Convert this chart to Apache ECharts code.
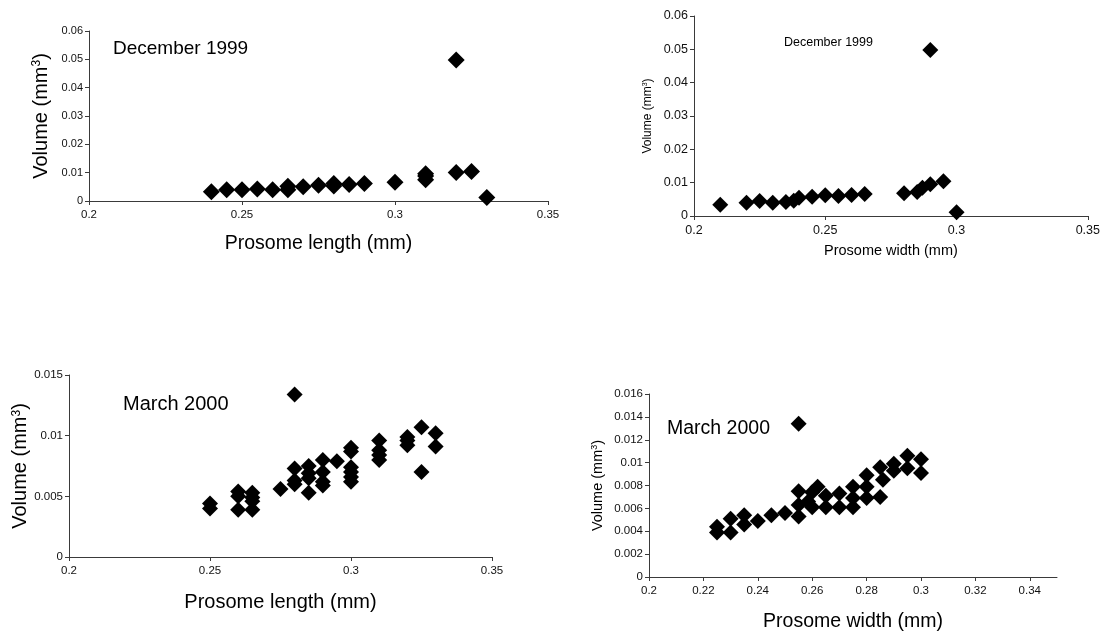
<!DOCTYPE html>
<html>
<head>
<meta charset="utf-8">
<script src="https://cdn.jsdelivr.net/npm/echarts@6/dist/echarts.min.js"></script>
<style>
html,body{margin:0;padding:0;background:#fff;}
#c{width:1103px;height:633px;}
</style>
</head>
<body>
<div id="c"></div>
<script>
// ---- Data ----
// December 1999, prosome length (mm) vs volume (mm3)
var decLenX = [0.24,0.245,0.25,0.255,0.26,0.265,0.265,0.27,0.275,0.28,0.28,0.285,0.29,0.30,0.31,0.31,0.31,0.32,0.32,0.325,0.33];
var decLenY = [0.0033,0.0040,0.0040,0.0042,0.0040,0.0040,0.0052,0.0050,0.0056,0.0053,0.0062,0.0058,0.0062,0.0066,0.0075,0.0088,0.0096,0.0101,0.0498,0.0104,0.0012];
// December 1999, prosome width (mm) vs volume
var decWidX = [0.21,0.22,0.225,0.23,0.235,0.238,0.24,0.245,0.25,0.255,0.26,0.265,0.28,0.285,0.287,0.29,0.295,0.30,0.29];
var decWidY = [0.0034,0.0040,0.0045,0.0040,0.0042,0.0046,0.0055,0.0058,0.0062,0.0060,0.0063,0.0066,0.0068,0.0072,0.0085,0.0095,0.0104,0.0011,0.0498];
// March 2000, prosome length vs volume
var marLenX = [0.25,0.25,0.26,0.26,0.26,0.265,0.265,0.265,0.265,0.275,0.28,0.28,0.28,0.28,0.285,0.285,0.285,0.285,0.29,0.29,0.29,0.29,0.295,0.30,0.30,0.30,0.30,0.30,0.30,0.31,0.31,0.31,0.31,0.32,0.32,0.32,0.325,0.325,0.33,0.33];
var marLenY = [0.0044,0.0040,0.0054,0.0050,0.0039,0.0053,0.0049,0.0046,0.0039,0.0056,0.0134,0.0073,0.0063,0.0060,0.0075,0.0069,0.0065,0.0053,0.0080,0.0070,0.0062,0.0059,0.0079,0.0090,0.0087,0.0074,0.0070,0.0066,0.0062,0.0096,0.0088,0.0084,0.0080,0.0099,0.0096,0.0092,0.0107,0.0070,0.0102,0.0091];
// March 2000, prosome width vs volume
var marWidX = [0.225,0.225,0.23,0.23,0.235,0.235,0.24,0.245,0.25,0.255,0.255,0.255,0.255,0.2585,0.26,0.26,0.262,0.265,0.265,0.27,0.27,0.275,0.275,0.275,0.28,0.28,0.28,0.285,0.285,0.286,0.29,0.29,0.295,0.295,0.30,0.30];
var marWidY = [0.0044,0.0039,0.0051,0.0039,0.0054,0.0046,0.0049,0.0054,0.0056,0.0075,0.0063,0.0053,0.0134,0.0066,0.0074,0.0061,0.0079,0.0071,0.0061,0.0073,0.0061,0.0079,0.0069,0.0061,0.0089,0.0079,0.0069,0.0096,0.0070,0.0085,0.0099,0.0093,0.0106,0.0095,0.0103,0.0091];

var titles = ['December 1999','December 1999','March 2000','March 2000'];
var xNames = ['Prosome length (mm)','Prosome width (mm)','Prosome length (mm)','Prosome width (mm)'];

function zip(a,b){ return a.map(function(v,i){ return [v,b[i]]; }); }

var FF = '"Liberation Sans", Arial, Helvetica, sans-serif';
var AX = '#3a3a3a';

function yName(fs){
  return {
    fontFamily: FF, color:'#000',
    rich: {
      n: {fontSize: fs, fontFamily: FF, color:'#000'},
      s: {fontSize: Math.round(fs*0.62), fontFamily: FF, color:'#000', verticalAlign:'top', lineHeight: Math.round(fs*0.62)}
    }
  };
}

function xAxis(idx, interval, nameFs, nameGap, labFs, hideMax){
  return {
    gridIndex: idx, type:'value', min:0.2, max:0.35, interval: interval,
    name: xNames[idx], nameLocation:'middle', nameGap: nameGap,
    nameTextStyle: {fontSize: nameFs, fontFamily: FF, color:'#000'},
    axisLine: {show:true, onZero:false, lineStyle:{color:AX, width:1}},
    axisTick: {show:true, length:4, lineStyle:{color:AX}},
    axisLabel: {fontSize: labFs, fontFamily: FF, color:'#111', margin:8, showMaxLabel: !hideMax},
    splitLine: {show:false}
  };
}
function yAxis(idx, max, interval, nameFs, nameGap, labFs){
  return {
    gridIndex: idx, type:'value', min:0, max:max, interval: interval,
    name: '{n|Volume (mm}{s|3}{n|)}', nameLocation:'middle', nameGap: nameGap,
    nameTextStyle: yName(nameFs),
    axisLine: {show:true, lineStyle:{color:AX, width:1}},
    axisTick: {show:true, length:4, lineStyle:{color:AX}},
    axisLabel: {fontSize: labFs, fontFamily: FF, color:'#111', margin:6},
    splitLine: {show:false}
  };
}
function ser(idx, x, y, size){
  return {
    type:'scatter', xAxisIndex: idx, yAxisIndex: idx,
    data: zip(x,y), symbol:'diamond', symbolSize: size,
    itemStyle: {color:'#000', opacity:1}, animation:false
  };
}

var option = {
  backgroundColor:'#fff',
  animation:false,
  title: [
    {text: titles[0], left:113, top:39, padding:0, textStyle:{fontSize:19, fontWeight:'normal', fontFamily:FF, color:'#000'}},
    {text: titles[1], left:784, top:36, padding:0, textStyle:{fontSize:12.5, fontWeight:'normal', fontFamily:FF, color:'#000'}},
    {text: titles[2], left:123, top:394, padding:0, textStyle:{fontSize:20, fontWeight:'normal', fontFamily:FF, color:'#000'}},
    {text: titles[3], left:667, top:419, padding:0, textStyle:{fontSize:19.5, fontWeight:'normal', fontFamily:FF, color:'#000'}}
  ],
  grid: [
    {left:89, top:31, width:459, height:170},
    {left:694, top:16, width:394, height:200},
    {left:69, top:375, width:423, height:182},
    {left:649, top:394, width:408, height:183}
  ],
  xAxis: [
    xAxis(0, 0.05, 19.5, 33, 11.5, false),
    xAxis(1, 0.05, 14.5, 27, 12.5, false),
    xAxis(2, 0.05, 20, 35, 11.5, false),
    xAxis(3, 0.02, 19.5, 35, 11.5, true)
  ],
  yAxis: [
    yAxis(0, 0.06, 0.01, 20, 38, 11),
    yAxis(1, 0.06, 0.01, 12, 40, 12.5),
    yAxis(2, 0.015, 0.005, 20, 36, 11.5),
    yAxis(3, 0.016, 0.002, 14.5, 44, 11.5)
  ],
  series: [
    ser(0, decLenX, decLenY, 17),
    ser(1, decWidX, decWidY, 16),
    ser(2, marLenX, marLenY, 16),
    ser(3, marWidX, marWidY, 16)
  ]
};

var chart = echarts.init(document.getElementById('c'), null, {renderer:'canvas'});
chart.setOption(option);
</script>
</body>
</html>
